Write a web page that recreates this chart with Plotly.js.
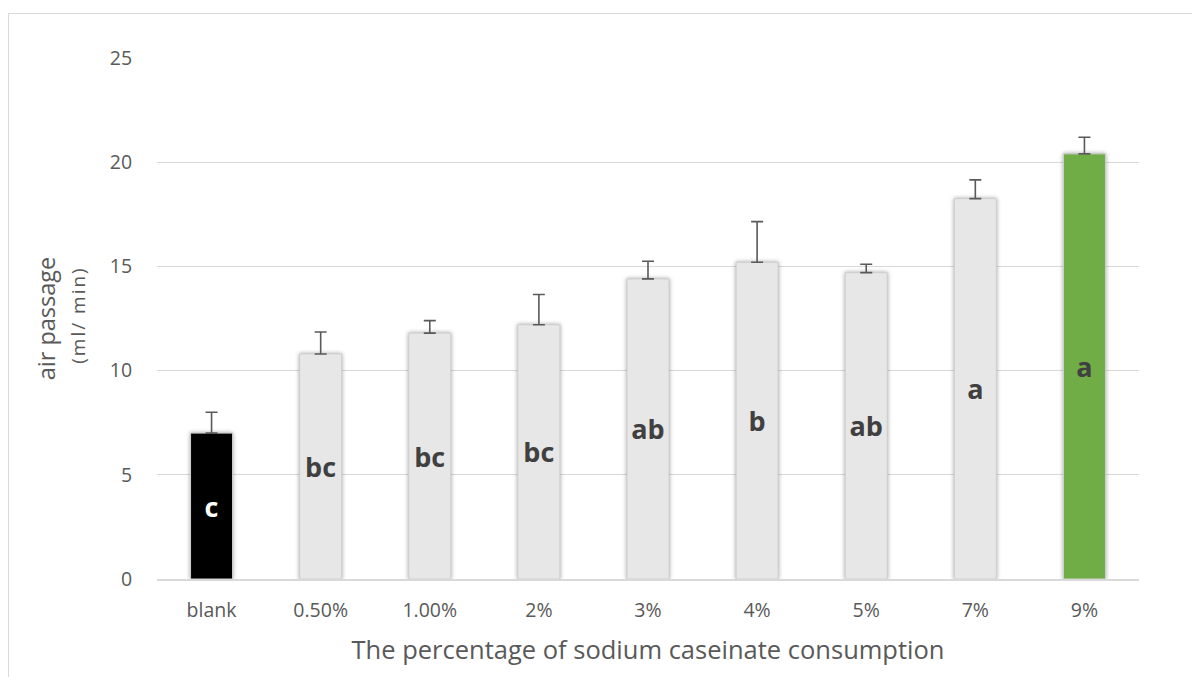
<!DOCTYPE html>
<html>
<head>
<meta charset="utf-8">
<script src="https://cdn.plot.ly/plotly-3.0.1.min.js"></script>
<style>
  html, body { margin: 0; padding: 0; background: #ffffff; }
  #wrap { position: relative; width: 1192px; height: 677px; }
  #chart { position: absolute; left: 0; top: 0; width: 1192px; height: 677px; }
  #frame { position: absolute; left: 8px; top: 13px; width: 1184px; height: 664px;
           border-left: 1.5px solid #d9d9d9; border-top: 1.5px solid #d9d9d9;
           box-sizing: border-box; pointer-events: none; }
  .trace.bars .point path { filter: drop-shadow(0px 0px 2px rgba(0,0,0,0.35)); }
</style>
</head>
<body>
<div id="wrap">
  <div id="chart"></div>
  <div id="frame"></div>
</div>
<script>
const categories = ['blank', '0.50%', '1.00%', '2%', '3%', '4%', '5%', '7%', '9%'];
const airPassage = [7.0, 10.8, 11.8, 12.2, 14.4, 15.2, 14.7, 18.25, 20.4];
const errorPlus  = [1.0, 1.05, 0.6, 1.45, 0.85, 1.95, 0.4, 0.9, 0.8];
const letters    = ['c', 'bc', 'bc', 'bc', 'ab', 'b', 'ab', 'a', 'a'];
const barColors  = ['#000000', '#e7e7e7', '#e7e7e7', '#e7e7e7', '#e7e7e7', '#e7e7e7', '#e7e7e7', '#e7e7e7', '#70ad47'];
const letterColors = ['#ffffff', '#404040', '#404040', '#404040', '#404040', '#404040', '#404040', '#404040', '#404040'];
const yTicks = [0, 5, 10, 15, 20, 25];

const FONT = '"Open Sans", "DejaVu Sans", sans-serif';

const trace = {
  type: 'bar',
  x: categories,
  y: airPassage,
  text: letters,
  textposition: 'inside',
  insidetextanchor: 'middle',
  textangle: 0,
  textfont: { family: FONT, size: 27, color: letterColors, weight: 'bold' },
  marker: { color: barColors, line: { color: '#cfcfcf', width: 1 } },
  error_y: {
    type: 'data',
    symmetric: false,
    array: errorPlus,
    arrayminus: errorPlus.map(() => 0),
    color: '#595959',
    thickness: 1.6,
    width: 6
  },
  hoverinfo: 'x+y'
};

const layout = {
  width: 1192,
  height: 677,
  margin: { l: 157, r: 53, t: 58, b: 98, pad: 0 },
  paper_bgcolor: '#ffffff',
  plot_bgcolor: '#ffffff',
  bargap: 0.615,
  showlegend: false,
  font: { family: FONT, color: '#595959' },
  xaxis: {
    type: 'category',
    tickfont: { family: FONT, size: 19.5, color: '#595959' },
    ticks: 'outside',
    ticklen: 13,
    tickcolor: 'rgba(0,0,0,0)',
    showline: true,
    linecolor: '#d9d9d9',
    linewidth: 1.5,
    showgrid: false,
    title: { text: 'The percentage of sodium caseinate consumption',
             font: { family: FONT, size: 25.5, color: '#595959' }, standoff: 19 }
  },
  yaxis: {
    range: [0, 25],
    tickvals: yTicks,
    ticktext: yTicks.map(String),
    tickfont: { family: FONT, size: 19.5, color: '#595959' },
    ticks: 'outside',
    ticklen: 20,
    tickcolor: 'rgba(0,0,0,0)',
    showline: false,
    zeroline: false,
    showgrid: true,
    gridcolor: '#d9d9d9',
    gridwidth: 1.3,
    title: { text: '\u00a0\u00a0air passage<br><span style="font-size:19px;letter-spacing:2px">\u00a0(ml/ min)</span>',
             font: { family: FONT, size: 23.5, color: '#595959' }, standoff: 17 }
  }
};

Plotly.newPlot('chart', [trace], layout, { displayModeBar: false, staticPlot: true });
</script>
</body>
</html>
